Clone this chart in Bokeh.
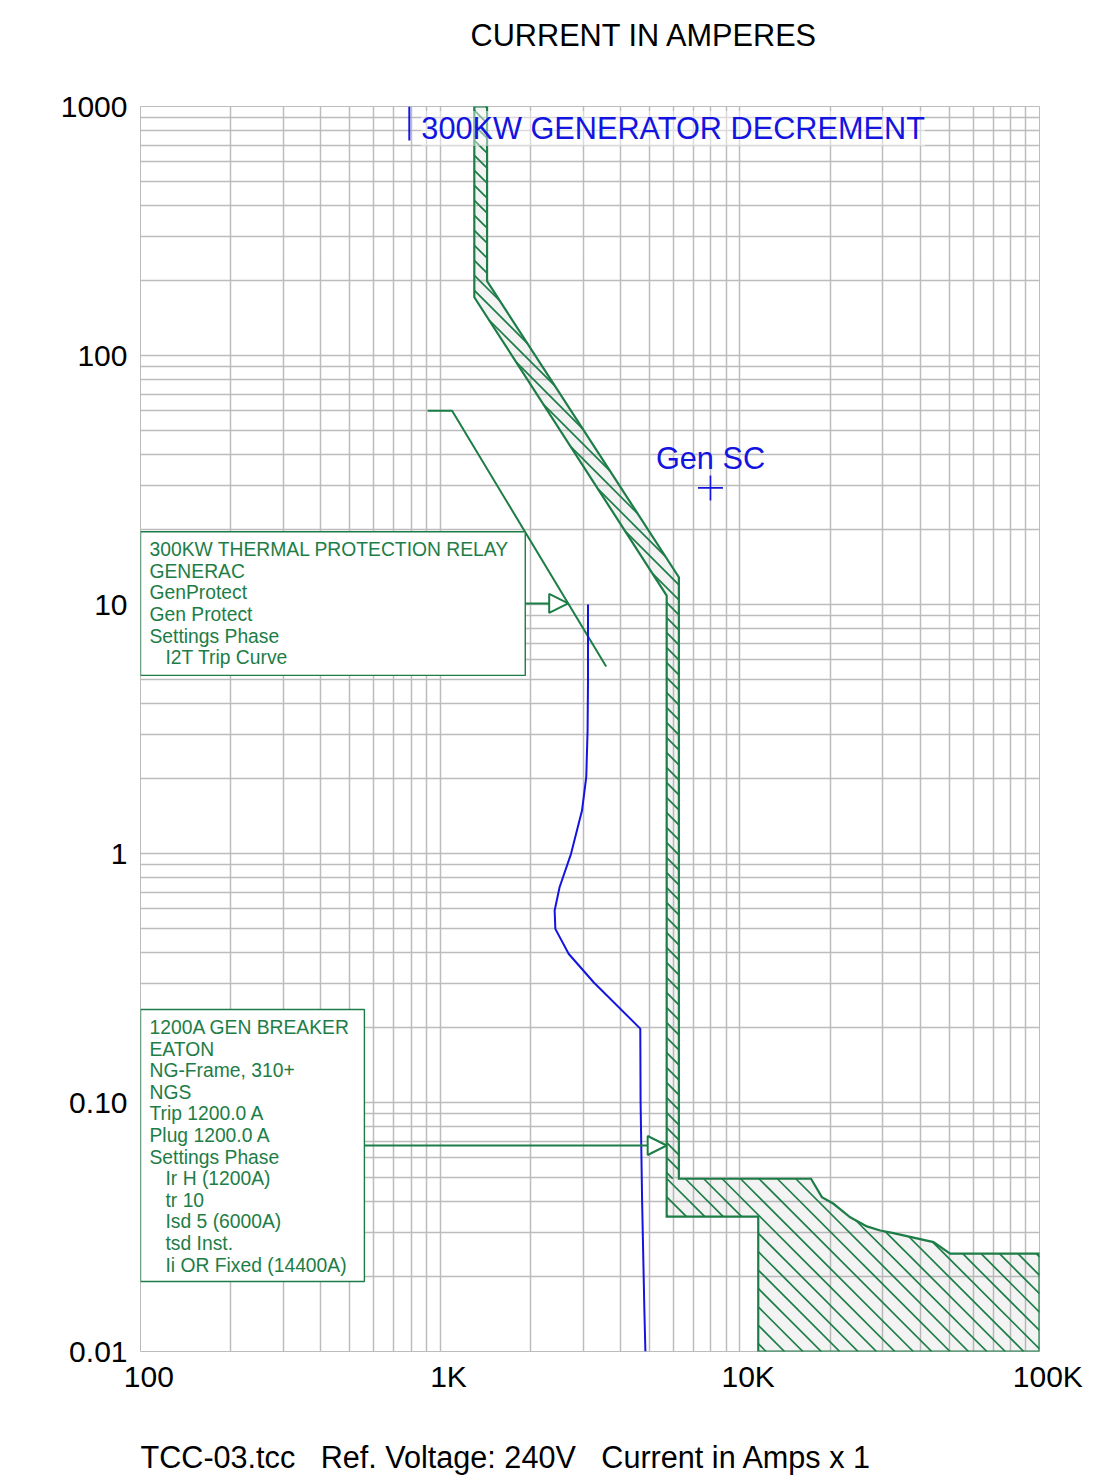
import numpy as np
from bokeh.plotting import figure
from bokeh.models import (FixedTicker, Label, BoxAnnotation, Arrow, NormalHead, LogAxis, Title)
from bokeh.embed import file_html
from bokeh.resources import INLINE

GREEN = "#1d7d47"
BLUE = "#1414e0"
GRID = "#bcbcbc"
FONT = "Liberation Sans"
NB = "\u00a0"

# ---- axes -------------------------------------------------------------
current_ticks = [100, 1000, 10000, 100000]
current_labels = ["100", "1K", "10K", "100K"]
time_ticks = [0.01, 0.1, 1, 10, 100, 1000]
time_labels = ["0.01", "0.10", "1", "10", "100", "1000"]

# ---- 1200A GEN BREAKER trip band (amps / seconds) ----------------------
breaker_min_amps = [1300, 1300, 5700, 5700, 11520, 11520]
breaker_min_sec = [1000, 171.4, 10.86, 0.0348, 0.0348, 0.01]
breaker_max_amps = [1434, 1434, 6260, 6260, 17280, 18790, 20540, 23350,
                    26550, 29400, 32560, 44270, 50330, 100000]
breaker_max_sec = [1000, 198.8, 12.87, 0.0494, 0.0494, 0.0417, 0.0392, 0.0346,
                   0.0318, 0.0306, 0.0299, 0.0275, 0.0247, 0.0247]

# ---- 300KW thermal protection relay, I2T trip curve --------------------
relay_amps = [908, 1096, 3580]
relay_sec = [60, 60, 5.64]

# ---- 300KW generator decrement curve -----------------------------------
decrement_amps = [3114, 3114, 3104, 3073, 2974, 2733, 2503, 2410, 2423,
                  2683, 3251, 4654, 4665, 4720, 4800, 4840]
decrement_sec = [10.0, 4.95, 3.12, 2.03, 1.488, 0.997, 0.732, 0.590, 0.498,
                 0.3956, 0.304, 0.198, 0.10, 0.04, 0.015, 0.01]
decrement_label_amps = 789
decrement_label_sec = [1000, 730]

# ---- generator short circuit point -------------------------------------
gen_sc_amps = [7980]
gen_sc_sec = [29.4]

# callout leader levels (seconds)
relay_callout_sec = 10.1
breaker_callout_sec = 0.0672

# ---- page geometry ------------------------------------------------------
W, H = 1093, 1475
BL, BR, BT, BB = 140, 54, 106, 124
FRAME_W, FRAME_H = W - BL - BR, H - BT - BB
X_DEC = np.log10(current_ticks[-1] / current_ticks[0])
Y_DEC = np.log10(time_ticks[-1] / time_ticks[0])
KX, KY = FRAME_W / X_DEC, FRAME_H / Y_DEC   # pixels per decade


def amps_on_curve(amps, secs, t):
    """Current where a time-current curve reaches time t (log interpolation)."""
    la, ls, lt = np.log10(amps), np.log10(secs), np.log10(t)
    for i in range(len(la) - 1):
        lo, hi = sorted((ls[i], ls[i + 1]))
        if lo <= lt <= hi and hi > lo:
            f = (lt - ls[i]) / (ls[i + 1] - ls[i])
            return 10 ** (la[i] + f * (la[i + 1] - la[i]))
    return amps[-1]


def to_px(a, t):
    return KX * (np.log10(a) - np.log10(current_ticks[0])), KY * (np.log10(time_ticks[-1]) - np.log10(t))


def from_px(X, Y):
    return current_ticks[0] * 10 ** (X / KX), time_ticks[-1] * 10 ** (-Y / KY)


def hatch_segments(poly_a, poly_t, spacing, y_lo, y_hi):
    """45-degree '\\' hatch lines clipped to a polygon and to a pixel row band."""
    PX, PY = to_px(np.asarray(poly_a, float), np.asarray(poly_t, float))
    n = len(PX)
    xs, ys = [], []
    for c in np.arange(-FRAME_H - spacing, FRAME_W + spacing, spacing):
        hits = []
        for i in range(n):
            x1, y1, x2, y2 = PX[i], PY[i], PX[(i + 1) % n], PY[(i + 1) % n]
            f1, f2 = x1 - y1 - c, x2 - y2 - c
            if (f1 > 0) != (f2 > 0):
                s = f1 / (f1 - f2)
                hits.append(x1 + s * (x2 - x1))
        hits.sort()
        for j in range(0, len(hits) - 1, 2):
            xa, xb = max(hits[j], y_lo + c), min(hits[j + 1], y_hi + c)
            if xb > xa:
                a, t = from_px(np.array([xa, xb]), np.array([xa - c, xb - c]))
                xs.append(list(a))
                ys.append(list(t))
    return xs, ys


p = figure(width=W, height=H, x_axis_type="log", y_axis_type="log",
           x_range=(current_ticks[0], current_ticks[-1]),
           y_range=(time_ticks[0], time_ticks[-1]),
           output_backend="svg", toolbar_location=None,
           min_border_left=BL, min_border_right=BR,
           min_border_top=BT, min_border_bottom=BB)
p.background_fill_color = "white"
p.border_fill_color = "white"
p.outline_line_color = GRID

x_minor = [m * 10 ** e for e in range(2, 5) for m in range(2, 10)]
y_minor = [m * 10.0 ** e for e in range(-2, 3) for m in range(2, 10)]
p.xaxis.ticker = FixedTicker(ticks=current_ticks, minor_ticks=x_minor)
p.yaxis.ticker = FixedTicker(ticks=time_ticks, minor_ticks=y_minor)
p.xaxis.major_label_overrides = {t: NB + NB + s for t, s in zip(current_ticks, current_labels)}
p.yaxis.major_label_overrides = {t: s for t, s in zip(time_ticks, time_labels)}

for ax in (p.xaxis, p.yaxis):
    ax.axis_line_color = None
    ax.major_tick_line_color = None
    ax.minor_tick_line_color = None
    ax.major_tick_out = 0
    ax.minor_tick_out = 0
    ax.major_label_text_font = FONT
    ax.major_label_text_font_size = "30px"
    ax.major_label_text_color = "black"
p.xaxis.major_label_standoff = 8
p.yaxis.major_label_standoff = 13

# blank spacer under the x tick labels, so the footer sits at the page bottom
p.xaxis.axis_label = NB
p.xaxis.axis_label_standoff = 4
p.xaxis.axis_label_text_font_size = "31px"

for g in (p.xgrid, p.ygrid):
    g.grid_line_color = GRID
    g.grid_line_width = 1.5
    g.minor_grid_line_color = GRID
    g.minor_grid_line_width = 1.5

# blank spacer above the frame, heading sits outside it
spacer = LogAxis(ticker=FixedTicker(ticks=[]), axis_line_color=None,
                 major_tick_out=0, minor_tick_out=0, major_tick_in=0, minor_tick_in=0,
                 axis_label=NB, axis_label_standoff=16, axis_label_text_font_size="31px")
p.add_layout(spacer, "above")

p.title.text = "CURRENT IN AMPERES"
p.title.align = "left"
p.title.offset = 330
p.title.standoff = 0
p.title.text_font = FONT
p.title.text_font_size = "30.7px"
p.title.text_font_style = "normal"
p.title.text_color = "black"

foot = Title(text="TCC-03.tcc " + NB + " Ref. Voltage: 240V " + NB + " Current in Amps x 1",
             align="left", offset=0, standoff=0, text_font=FONT,
             text_font_size="30.6px", text_font_style="normal", text_color="black")
p.add_layout(foot, "below")

# breaker band: outline, light shading and 45-degree hatching
band_x = breaker_min_amps + [current_ticks[-1]] + breaker_max_amps[::-1]
band_y = breaker_min_sec + [time_ticks[0]] + breaker_max_sec[::-1]
p.patch(band_x, band_y, fill_color="#9a9a9a", fill_alpha=0.12, line_color=None)
split_y = to_px(1.0, breaker_max_sec[4])[1]
hx1, hy1 = hatch_segments(band_x, band_y, 15.0, -10, split_y)
hx2, hy2 = hatch_segments(band_x, band_y, 18.4, split_y, FRAME_H + 10)
p.multi_line(hx1 + hx2, hy1 + hy2, line_color=GREEN, line_width=1.7)
p.patch(band_x, band_y, fill_color=None, line_color=GREEN, line_width=2.2,
        line_join="miter")

# relay curve
p.line(relay_amps, relay_sec, line_color=GREEN, line_width=2)

# generator decrement
p.line(decrement_amps, decrement_sec, line_color=BLUE, line_width=2)
p.line([decrement_label_amps] * 2, decrement_label_sec, line_color=BLUE, line_width=2)
p.add_layout(Label(x=decrement_label_amps, y=decrement_label_sec[0], x_offset=12, y_offset=-22,
                   text="300KW GENERATOR DECREMENT", text_font=FONT, text_font_size="30.7px",
                   text_color=BLUE, text_baseline="middle",
                   background_fill_color="white", background_fill_alpha=0.45))

# generator short circuit
p.scatter(gen_sc_amps, gen_sc_sec, marker="cross", size=25, line_color=BLUE, line_width=1.6)
p.add_layout(Label(x=gen_sc_amps[0], y=gen_sc_sec[0], y_offset=29, text="Gen SC",
                   text_font=FONT, text_font_size="30.7px", text_color=BLUE,
                   text_align="center", text_baseline="alphabetic"))


def callout(left, right, top, bottom, lines):
    p.add_layout(BoxAnnotation(left=left, right=right, top=top, bottom=bottom,
                               fill_color="white", fill_alpha=1.0,
                               line_color=GREEN, line_alpha=1.0, line_width=1.4,
                               level="overlay"))
    for i, s in enumerate(lines):
        indent = s.startswith(" ")
        p.add_layout(Label(x=left, y=top, x_offset=9 + (16 if indent else 0),
                           y_offset=-(18 + 21.6 * i), text=s.strip(), text_font=FONT,
                           text_font_size="19.3px", text_color=GREEN,
                           text_baseline="middle", level="overlay"))


relay_lines = ["300KW THERMAL PROTECTION RELAY", "GENERAC", "GenProtect", "Gen Protect",
               "Settings Phase", "  I2T Trip Curve"]
breaker_lines = ["1200A GEN BREAKER", "EATON", "NG-Frame, 310+", "NGS", "Trip 1200.0 A",
                 "Plug 1200.0 A", "Settings Phase", "  Ir H (1200A)", "  tr 10",
                 "  Isd 5 (6000A)", "  tsd Inst.", "  Ii OR Fixed (14400A)"]

relay_box = (100, 1923, 19.6, 5.19)
breaker_box = (100, 558.7, 0.2363, 0.0191)
callout(*relay_box, relay_lines)
callout(*breaker_box, breaker_lines)

head = dict(size=19, fill_color="white", line_color=GREEN, line_width=2)
relay_tip = amps_on_curve(relay_amps, relay_sec, relay_callout_sec)
p.add_layout(Arrow(end=NormalHead(**head), x_start=relay_box[1], y_start=relay_callout_sec,
                   x_end=relay_tip, y_end=relay_callout_sec,
                   line_color=GREEN, line_width=2))
breaker_tip = amps_on_curve(breaker_min_amps, breaker_min_sec, breaker_callout_sec)
p.add_layout(Arrow(end=NormalHead(**head), x_start=breaker_box[1], y_start=breaker_callout_sec,
                   x_end=breaker_tip, y_end=breaker_callout_sec,
                   line_color=GREEN, line_width=2))

open("out.html", "w").write(file_html(p, INLINE))
